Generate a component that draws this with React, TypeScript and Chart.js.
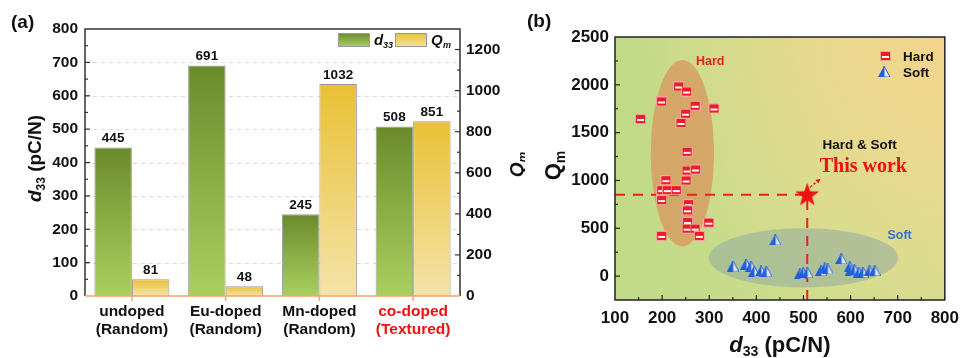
import React, { useEffect, useRef } from "react";
import { Chart, registerables } from "chart.js";
Chart.register(...registerables);

// ---------- Panel (a) data ----------
const categories = [
  ["undoped", "(Random)"],
  ["Eu-doped", "(Random)"],
  ["Mn-doped", "(Random)"],
  ["co-doped", "(Textured)"],
];
const d33Values = [445, 691, 245, 508];
const qmValues = [81, 48, 1032, 851];
const leftTicksA = [0, 100, 200, 300, 400, 500, 600, 700, 800];
const rightTicksA = [0, 200, 400, 600, 800, 1000, 1200];

// ---------- Panel (b) data ----------
const hardD33 = [154, 199, 235, 252, 270, 310, 250, 240, 253, 253, 271, 208, 251, 199, 211, 230, 199, 256, 254, 254, 253, 270, 299, 279, 199];
const hardQm = [1642, 1826, 1983, 1930, 1781, 1753, 1698, 1601, 1299, 1104, 1115, 1003, 1000, 899, 899, 899, 795, 753, 688, 566, 496, 496, 559, 420, 420];
const softD33 = [350, 378, 388, 395, 410, 421, 440, 492, 499, 508, 537, 545, 551, 580, 598, 600, 608, 617, 626, 640, 651];
const softQm = [105, 125, 105, 50, 55, 50, 380, 25, 35, 40, 60, 85, 75, 185, 100, 60, 70, 40, 40, 55, 60];
const thisWorkD33 = 508;
const thisWorkQm = 851;
const xTicksB = [100, 200, 300, 400, 500, 600, 700, 800];
const yTicksB = [0, 500, 1000, 1500, 2000, 2500];
// region ellipses: [centre d33, centre Qm, half-width d33, half-height Qm]
const hardRegion = [243, 1285, 67, 975];
const softRegion = [500, 191, 201, 309];
// annotation arrow: from / to in data units
const arrowFrom = [514, 930];
const arrowTo = [536, 1015];

const FONT = 'Arial, "Liberation Sans", Helvetica, sans-serif';
const SERIF = '"Times New Roman", "Liberation Serif", serif';
const plain = (v: any) => String(v);

type Part = { t: string; font: string; dy?: number };
function drawRich(ctx: CanvasRenderingContext2D, parts: Part[], x: number, y: number, rot: number, color: string) {
  ctx.save();
  ctx.translate(x, y);
  if (rot) ctx.rotate(rot);
  let total = 0;
  for (const p of parts) {
    ctx.font = p.font;
    total += ctx.measureText(p.t).width;
  }
  let cx = -total / 2;
  ctx.fillStyle = color;
  ctx.textBaseline = "alphabetic";
  ctx.textAlign = "left";
  for (const p of parts) {
    ctx.font = p.font;
    ctx.fillText(p.t, cx, p.dy || 0);
    cx += ctx.measureText(p.t).width;
  }
  ctx.restore();
}

function barGradient(top: string, bottom: string, axisId: string) {
  return (c: any) => {
    const chart = c.chart;
    const scale = chart.scales && chart.scales[axisId];
    if (!chart.chartArea || !scale || c.raw == null) return bottom;
    const yTop = scale.getPixelForValue(c.raw);
    const yBot = scale.getPixelForValue(0);
    if (!isFinite(yTop) || !isFinite(yBot) || yTop === yBot) return bottom;
    const g = chart.ctx.createLinearGradient(0, yTop, 0, yBot);
    g.addColorStop(0, top);
    g.addColorStop(1, bottom);
    return g;
  };
}

const GREEN_TOP = "#6b8b2b";
const GREEN_BOT = "#a9cf5f";
const YEL_TOP = "#e9c035";
const YEL_BOT = "#f4e3a9";

function makeHardMarker() {
  const c = document.createElement("canvas");
  c.width = 11;
  c.height = 10;
  const g = c.getContext("2d")!;
  g.fillStyle = "#f5a3a3";
  g.fillRect(0, 0, 11, 10);
  g.fillStyle = "#ee1c24";
  g.fillRect(1, 1, 9, 8);
  g.fillStyle = "#ffffff";
  g.fillRect(2, 5, 7, 2);
  return c;
}
function makeSoftMarker() {
  const c = document.createElement("canvas");
  c.width = 12;
  c.height = 11;
  const g = c.getContext("2d")!;
  g.beginPath();
  g.moveTo(6, 0);
  g.lineTo(0, 11);
  g.lineTo(6, 11);
  g.closePath();
  g.fillStyle = "#1f5fd8";
  g.fill();
  g.beginPath();
  g.moveTo(6, 0);
  g.lineTo(12, 11);
  g.lineTo(6, 11);
  g.closePath();
  g.fillStyle = "#e3ecff";
  g.fill();
  g.strokeStyle = "#2f68dc";
  g.lineWidth = 1;
  g.stroke();
  return c;
}
function makeStar() {
  const c = document.createElement("canvas");
  c.width = 26;
  c.height = 26;
  const g = c.getContext("2d")!;
  g.beginPath();
  for (let i = 0; i < 10; i++) {
    const r = i % 2 === 0 ? 12.5 : 5;
    const a = -Math.PI / 2 + (i * Math.PI) / 5;
    const px = 13 + r * Math.cos(a);
    const py = 13.5 + r * Math.sin(a);
    if (i === 0) g.moveTo(px, py);
    else g.lineTo(px, py);
  }
  g.closePath();
  g.fillStyle = "#ee1111";
  g.fill();
  return c;
}

// ---------- plugins ----------
const panelAPlugin = {
  id: "panelA",
  beforeDatasetsDraw(chart: any) {
    const { ctx, chartArea: ca, scales } = chart;
    const y = scales.y;
    ctx.save();
    ctx.strokeStyle = "#d9d9d9";
    ctx.lineWidth = 1;
    ctx.setLineDash([4, 4]);
    for (const v of leftTicksA) {
      if (v === 0 || v === 800) continue;
      const py = Math.round(y.getPixelForValue(v)) + 0.5;
      ctx.beginPath();
      ctx.moveTo(ca.left, py);
      ctx.lineTo(ca.right, py);
      ctx.stroke();
    }
    ctx.restore();
  },
  afterDatasetsDraw(chart: any) {
    const { ctx } = chart;
    ctx.save();
    ctx.font = `bold 13.5px ${FONT}`;
    ctx.fillStyle = "#111";
    ctx.textAlign = "center";
    ctx.textBaseline = "bottom";
    chart.data.datasets.forEach((ds: any, di: number) => {
      const meta = chart.getDatasetMeta(di);
      meta.data.forEach((el: any, i: number) => {
        ctx.fillText(String(ds.data[i]), el.x, el.y - 2);
      });
    });
    ctx.restore();
  },
  afterDraw(chart: any) {
    const { ctx, chartArea: ca, scales } = chart;
    const y = scales.y;
    const y1 = scales.y1;
    const x = scales.x;
    ctx.save();
    // frame
    ctx.strokeStyle = "#333";
    ctx.lineWidth = 1.5;
    ctx.beginPath();
    ctx.moveTo(ca.left, ca.bottom);
    ctx.lineTo(ca.left, ca.top);
    ctx.lineTo(ca.right, ca.top);
    ctx.lineTo(ca.right, ca.bottom);
    ctx.stroke();
    // inward ticks
    ctx.lineWidth = 1.2;
    for (let v = 50; v < 800; v += 50) {
      const py = y.getPixelForValue(v);
      const len = v % 100 === 0 ? 5 : 3;
      ctx.beginPath();
      ctx.moveTo(ca.left, py);
      ctx.lineTo(ca.left + len, py);
      ctx.stroke();
    }
    for (let v = 100; v < 1300; v += 100) {
      const py = y1.getPixelForValue(v);
      const len = v % 200 === 0 ? 5 : 3;
      ctx.beginPath();
      ctx.moveTo(ca.right, py);
      ctx.lineTo(ca.right - len, py);
      ctx.stroke();
    }
    // bottom axis (orange)
    ctx.strokeStyle = "#f2a46c";
    ctx.lineWidth = 1.5;
    ctx.beginPath();
    ctx.moveTo(ca.left, ca.bottom);
    ctx.lineTo(ca.right, ca.bottom);
    ctx.stroke();
    for (let i = 0; i < categories.length; i++) {
      const px = x.getPixelForValue(i);
      ctx.beginPath();
      ctx.moveTo(px, ca.bottom);
      ctx.lineTo(px, ca.bottom + 5);
      ctx.stroke();
    }
    // panel label
    ctx.fillStyle = "#111";
    ctx.font = `bold 19px ${FONT}`;
    ctx.textAlign = "left";
    ctx.textBaseline = "alphabetic";
    ctx.fillText("(a)", 11, 28);
    // axis titles
    drawRich(
      ctx,
      [
        { t: "d", font: `italic bold 19px ${FONT}` },
        { t: "33", font: `bold 12px ${FONT}`, dy: 4 },
        { t: " (pC/N)", font: `bold 19px ${FONT}` },
      ],
      41,
      (ca.top + ca.bottom) / 2 - 4,
      -Math.PI / 2,
      "#111"
    );
    drawRich(
      ctx,
      [
        { t: "Q", font: `italic bold 19px ${FONT}` },
        { t: "m", font: `italic bold 12px ${FONT}`, dy: 4 },
      ],
      523,
      (ca.top + ca.bottom) / 2 + 2,
      -Math.PI / 2,
      "#111"
    );
    // legend
    const drawBox = (bx: number, top: string, bot: string) => {
      const g = ctx.createLinearGradient(0, 33, 0, 47);
      g.addColorStop(0, top);
      g.addColorStop(1, bot);
      ctx.fillStyle = g;
      ctx.fillRect(bx, 33, 32, 14);
      ctx.strokeStyle = "#999";
      ctx.lineWidth = 1;
      ctx.strokeRect(bx + 0.5, 33.5, 31, 13);
    };
    drawBox(338, GREEN_TOP, GREEN_BOT);
    drawBox(395, YEL_TOP, YEL_BOT);
    ctx.fillStyle = "#111";
    ctx.font = `italic bold 15px ${FONT}`;
    ctx.fillText("d", 374, 45);
    ctx.font = `italic bold 9px ${FONT}`;
    ctx.fillText("33", 383, 48);
    ctx.font = `italic bold 15px ${FONT}`;
    ctx.fillText("Q", 431, 45);
    ctx.font = `italic bold 9px ${FONT}`;
    ctx.fillText("m", 443, 48);
    ctx.restore();
  },
};

const panelBPlugin = {
  id: "panelB",
  beforeDatasetsDraw(chart: any) {
    const { ctx, chartArea: ca, scales } = chart;
    const xs = scales.x;
    const ys = scales.y;
    ctx.save();
    ctx.beginPath();
    ctx.rect(ca.left, ca.top, ca.right - ca.left, ca.bottom - ca.top);
    ctx.clip();
    const lg = ctx.createLinearGradient(ca.left, 0, ca.right, 0);
    lg.addColorStop(0, "#c0da88");
    lg.addColorStop(0.5, "#cbdc8b");
    lg.addColorStop(1, "#d6dd8f");
    ctx.fillStyle = lg;
    ctx.fillRect(ca.left, ca.top, ca.right - ca.left, ca.bottom - ca.top);
    const w = ca.right - ca.left;
    const rg = ctx.createRadialGradient(ca.right, ca.top, 0, ca.right, ca.top, w * 0.95);
    rg.addColorStop(0, "rgba(244,212,140,1)");
    rg.addColorStop(0.45, "rgba(238,216,142,0.75)");
    rg.addColorStop(1, "rgba(230,220,145,0)");
    ctx.fillStyle = rg;
    ctx.fillRect(ca.left, ca.top, ca.right - ca.left, ca.bottom - ca.top);
    const drawEllipse = (r: number[], color: string) => {
      const cx = xs.getPixelForValue(r[0]);
      const cy = ys.getPixelForValue(r[1]);
      const rx = Math.abs(xs.getPixelForValue(r[0] + r[2]) - cx);
      const ry = Math.abs(ys.getPixelForValue(r[1] + r[3]) - cy);
      ctx.beginPath();
      ctx.ellipse(cx, cy, rx, ry, 0, 0, Math.PI * 2);
      ctx.fillStyle = color;
      ctx.fill();
    };
    drawEllipse(hardRegion, "rgba(214,158,98,0.85)");
    drawEllipse(softRegion, "rgba(140,165,160,0.5)");
    ctx.restore();
  },
  afterDatasetsDraw(chart: any) {
    const { ctx, scales } = chart;
    const xs = scales.x;
    const ys = scales.y;
    const P = (a: number, b: number) => [xs.getPixelForValue(a), ys.getPixelForValue(b)];
    ctx.save();
    ctx.textAlign = "center";
    ctx.textBaseline = "middle";
    let p = P(302, 2240);
    ctx.fillStyle = "#ee1c24";
    ctx.font = `bold 12.5px ${FONT}`;
    ctx.fillText("Hard", p[0], p[1]);
    p = P(704, 427);
    ctx.fillStyle = "#3a6fd0";
    ctx.font = `bold 12.5px ${FONT}`;
    ctx.fillText("Soft", p[0], p[1]);
    p = P(619, 1365);
    ctx.fillStyle = "#111";
    ctx.font = `bold 13.5px ${FONT}`;
    ctx.fillText("Hard & Soft", p[0], p[1]);
    p = P(627, 1146);
    ctx.fillStyle = "#ee1111";
    ctx.font = `bold 20px ${SERIF}`;
    ctx.fillText("This work", p[0], p[1]);
    // arrow
    const a0 = P(arrowFrom[0], arrowFrom[1]);
    const a1 = P(arrowTo[0], arrowTo[1]);
    ctx.strokeStyle = "#ee1111";
    ctx.lineWidth = 1.3;
    ctx.setLineDash([2.5, 2]);
    ctx.beginPath();
    ctx.moveTo(a0[0], a0[1]);
    ctx.lineTo(a1[0], a1[1]);
    ctx.stroke();
    ctx.setLineDash([]);
    const ang = Math.atan2(a1[1] - a0[1], a1[0] - a0[0]);
    ctx.fillStyle = "#ee1111";
    ctx.beginPath();
    ctx.moveTo(a1[0], a1[1]);
    ctx.lineTo(a1[0] - 5 * Math.cos(ang - 0.5), a1[1] - 5 * Math.sin(ang - 0.5));
    ctx.lineTo(a1[0] - 5 * Math.cos(ang + 0.5), a1[1] - 5 * Math.sin(ang + 0.5));
    ctx.closePath();
    ctx.fill();
    ctx.restore();
  },
  afterDraw(chart: any) {
    const { ctx, chartArea: ca, scales } = chart;
    const xs = scales.x;
    const ys = scales.y;
    ctx.save();
    ctx.strokeStyle = "#222";
    ctx.lineWidth = 1.5;
    ctx.strokeRect(ca.left, ca.top, ca.right - ca.left, ca.bottom - ca.top);
    ctx.lineWidth = 1.2;
    for (let v = 150; v < 800; v += 50) {
      const px = xs.getPixelForValue(v);
      const len = v % 100 === 0 ? 5 : 3;
      ctx.beginPath();
      ctx.moveTo(px, ca.bottom);
      ctx.lineTo(px, ca.bottom - len);
      ctx.stroke();
    }
    for (let v = 0; v < 2500; v += 250) {
      const py = ys.getPixelForValue(v);
      const len = v % 500 === 0 ? 5 : 3;
      ctx.beginPath();
      ctx.moveTo(ca.left, py);
      ctx.lineTo(ca.left + len, py);
      ctx.stroke();
    }
    // legend
    const hm = chart.$hardImg;
    const sm = chart.$softImg;
    if (hm) ctx.drawImage(hm, 355, 51);
    if (sm) ctx.drawImage(sm, 353, 66);
    ctx.fillStyle = "#111";
    ctx.font = `bold 13.5px ${FONT}`;
    ctx.textAlign = "left";
    ctx.textBaseline = "middle";
    ctx.fillText("Hard", 378, 57);
    ctx.fillText("Soft", 378, 73);
    // panel label
    ctx.font = `bold 19px ${FONT}`;
    ctx.textBaseline = "alphabetic";
    ctx.fillText("(b)", 2, 27);
    // titles
    drawRich(
      ctx,
      [
        { t: "Q", font: `bold 22px ${FONT}` },
        { t: "m", font: `bold 14px ${FONT}`, dy: 5 },
      ],
      35,
      (ca.top + ca.bottom) / 2 - 3,
      -Math.PI / 2,
      "#111"
    );
    drawRich(
      ctx,
      [
        { t: "d", font: `italic bold 22px ${FONT}` },
        { t: "33", font: `bold 14px ${FONT}`, dy: 4 },
        { t: " (pC/N)", font: `bold 22px ${FONT}` },
      ],
      (ca.left + ca.right) / 2,
      352,
      0,
      "#111"
    );
    ctx.restore();
  },
};

export default function App() {
  const refA = useRef<HTMLCanvasElement>(null);
  const refB = useRef<HTMLCanvasElement>(null);

  useEffect(() => {
    const hardImg = makeHardMarker();
    const softImg = makeSoftMarker();
    const starImg = makeStar();

    const chartA = new Chart(refA.current!, {
      type: "bar",
      data: {
        labels: categories as any,
        datasets: [
          {
            label: "d33",
            data: d33Values,
            yAxisID: "y",
            backgroundColor: barGradient(GREEN_TOP, GREEN_BOT, "y") as any,
            borderColor: "#9a9a9a",
            borderWidth: 1,
            categoryPercentage: 0.8,
            barPercentage: 1.0,
          },
          {
            label: "Qm",
            data: qmValues,
            yAxisID: "y1",
            backgroundColor: barGradient(YEL_TOP, YEL_BOT, "y1") as any,
            borderColor: "#9a9a9a",
            borderWidth: 1,
            categoryPercentage: 0.8,
            barPercentage: 1.0,
          },
        ],
      },
      options: {
        responsive: false,
        animation: false,
        layout: { padding: { top: 29, left: 0, right: 0, bottom: 0 } },
        plugins: { legend: { display: false }, tooltip: { enabled: false } },
        scales: {
          x: {
            grid: { display: false, drawTicks: false },
            border: { display: false },
            ticks: {
              font: { family: FONT, size: 15.5, weight: "bold" },
              color: (c: any) => (c.index === 3 ? "#ee1111" : "#111"),
              padding: 6,
              maxRotation: 0,
              autoSkip: false,
            },
            afterFit: (s: any) => {
              s.height = 62;
            },
          },
          y: {
            position: "left",
            min: 0,
            max: 800,
            afterBuildTicks: (s: any) => {
              s.ticks = leftTicksA.map((v) => ({ value: v }));
            },
            grid: { display: false, drawTicks: false },
            border: { display: false },
            ticks: { font: { family: FONT, size: 15.5, weight: "bold" }, color: "#111", padding: 7, callback: plain },
            afterFit: (s: any) => {
              s.width = 85;
            },
          },
          y1: {
            position: "right",
            min: 0,
            max: 1300,
            afterBuildTicks: (s: any) => {
              s.ticks = rightTicksA.map((v) => ({ value: v }));
            },
            grid: { display: false, drawTicks: false },
            border: { display: false },
            ticks: { font: { family: FONT, size: 15.5, weight: "bold" }, color: "#111", padding: 6, callback: plain },
            afterFit: (s: any) => {
              s.width = 65;
            },
          },
        },
      } as any,
      plugins: [panelAPlugin as any],
    });

    const chartB = new Chart(refB.current!, {
      type: "scatter",
      data: {
        datasets: [
          {
            label: "This work",
            data: [{ x: thisWorkD33, y: thisWorkQm }],
            pointStyle: starImg as any,
            pointRadius: 13,
          },
          {
            label: "Hard",
            data: hardD33.map((v, i) => ({ x: v, y: hardQm[i] })),
            pointStyle: hardImg as any,
            pointRadius: 5,
          },
          {
            label: "Soft",
            data: softD33.map((v, i) => ({ x: v, y: softQm[i] })),
            pointStyle: softImg as any,
            pointRadius: 6,
          },
          {
            label: "h-guide",
            data: [
              { x: 100, y: thisWorkQm },
              { x: thisWorkD33, y: thisWorkQm },
            ],
            showLine: true,
            borderColor: "#ee1c24",
            borderWidth: 2,
            borderDash: [10, 8],
            pointRadius: 0,
          },
          {
            label: "v-guide",
            data: [
              { x: thisWorkD33, y: -250 },
              { x: thisWorkD33, y: thisWorkQm },
            ],
            showLine: true,
            borderColor: "#ee1c24",
            borderWidth: 2,
            borderDash: [10, 8],
            pointRadius: 0,
          },
        ],
      },
      options: {
        responsive: false,
        animation: false,
        layout: { padding: { top: 37, right: 16, left: 0, bottom: 0 } },
        plugins: { legend: { display: false }, tooltip: { enabled: false } },
        scales: {
          x: {
            type: "linear",
            min: 100,
            max: 800,
            afterBuildTicks: (s: any) => {
              s.ticks = xTicksB.map((v) => ({ value: v }));
            },
            grid: { display: false, drawTicks: false },
            border: { display: false },
            ticks: { font: { family: FONT, size: 17, weight: "bold" }, color: "#111", padding: 8, callback: plain },
            afterFit: (s: any) => {
              s.height = 58;
            },
          },
          y: {
            type: "linear",
            min: -250,
            max: 2500,
            afterBuildTicks: (s: any) => {
              s.ticks = yTicksB.map((v) => ({ value: v }));
            },
            grid: { display: false, drawTicks: false },
            border: { display: false },
            ticks: { font: { family: FONT, size: 17, weight: "bold" }, color: "#111", padding: 6, callback: plain },
            afterFit: (s: any) => {
              s.width = 90;
            },
          },
        },
      } as any,
      plugins: [panelBPlugin as any],
    });
    (chartB as any).$hardImg = hardImg;
    (chartB as any).$softImg = softImg;
    chartB.draw();

    return () => {
      chartA.destroy();
      chartB.destroy();
    };
  }, []);

  return (
    <div style={{ position: "absolute", left: 0, top: 0, width: 967, height: 358, background: "#fff", overflow: "hidden" }}>
      <canvas ref={refA} width={525} height={358} style={{ position: "absolute", left: 0, top: 0, display: "block" }} />
      <canvas ref={refB} width={442} height={358} style={{ position: "absolute", left: 525, top: 0, display: "block" }} />
    </div>
  );
}
